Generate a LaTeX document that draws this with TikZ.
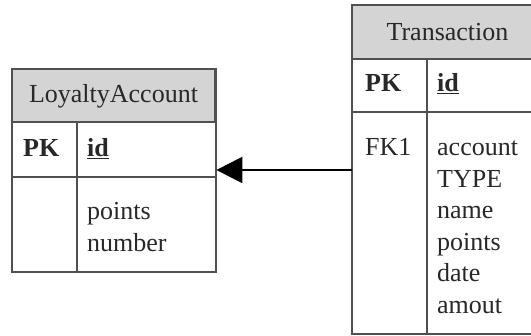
\documentclass[tikz,border=0pt]{standalone}
\usepackage{fontspec}
\setmainfont{Liberation Serif}
\usetikzlibrary{arrows.meta}
\definecolor{hdr}{RGB}{212,212,212}
\definecolor{edge}{RGB}{80,80,80}
\definecolor{ink}{RGB}{40,40,40}
\tikzset{
  entity/.style={draw=edge, line width=1.4pt, fill=white, rectangle, inner sep=0pt, anchor=north west},
  header/.style={draw=edge, line width=1.4pt, fill=hdr},
  sep/.style={draw=edge, line width=1.4pt},
  txt/.style={inner sep=0pt, anchor=base west, text=ink, font=\fontsize{26}{31.5}\selectfont},
  ttl/.style={inner sep=0pt, anchor=center, text=ink, font=\fontsize{26}{31.5}\selectfont},
  fk/.style={draw=black, line width=2.4pt, -{Triangle[length=26pt,width=26pt]}},
}
\begin{document}
\begin{tikzpicture}[x=1pt,y=1pt]
\useasboundingbox (0,0) rectangle (531,-336);
\clip (0,0) rectangle (531,-336);
% LoyaltyAccount
\node[entity, minimum width=203pt, minimum height=202pt] (la) at (12,-69) {};
\path[header] (12,-69) rectangle (215,-122);
\draw[sep] (12,-177) -- (215,-177);
\draw[sep] (77,-122) -- (77,-271);
\draw[sep] (la.north west) rectangle (la.south east);
\node[ttl] (la-title) at (113.5,-96) {LoyaltyAccount};
\node[txt] (la-pk) at (23,-157) {\textbf{PK}};
\node[txt] (la-id) at (87,-157) {\textbf{\underline{id}}};
\node[txt] (la-a1) at (87,-220) {points};
\node[txt] (la-a2) at (87,-252) {number};
% Transaction
\node[entity, minimum width=191pt, minimum height=328pt] (tr) at (352,-5) {};
\path[header] (352,-5) rectangle (543,-59);
\draw[sep] (352,-112) -- (543,-112);
\draw[sep] (427,-59) -- (427,-333);
\draw[sep] (tr.north west) rectangle (tr.south east);
\node[ttl] (tr-title) at (447.5,-32) {Transaction};
\node[txt] (tr-pk) at (365,-92) {\textbf{PK}};
\node[txt] (tr-id) at (437,-92) {\textbf{\underline{id}}};
\node[txt] (tr-fk) at (365,-156) {FK1};
\foreach \t [count=\i from 0] in {account,TYPE,name,points,date,amout}
  \node[txt] (tr-a\i) at (437,-156-31.5*\i) {\t};
% relationship
\coordinate (fky) at (0,-170);
\draw[fk] (tr.west |- fky) -- (la.east |- fky);
\end{tikzpicture}
\end{document}
